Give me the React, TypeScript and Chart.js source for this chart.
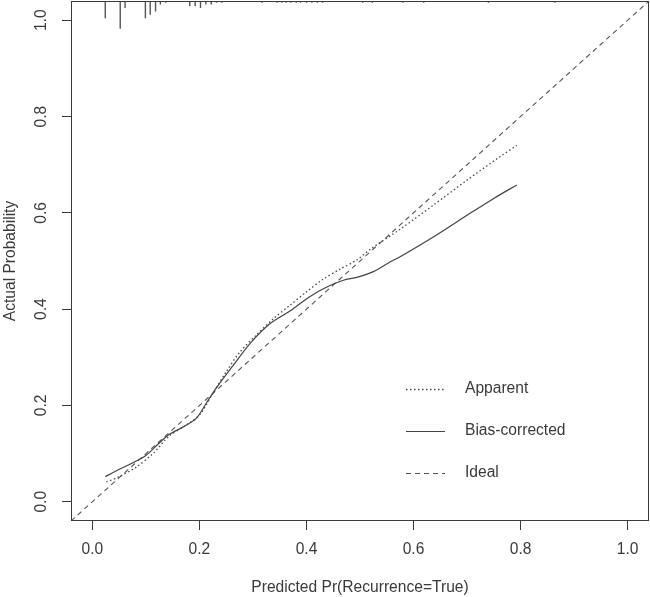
import React, { useEffect, useRef } from "react";
import { Chart, registerables } from "chart.js";

Chart.register(...registerables);

const axisMin = -0.04;
const axisMax = 1.04;
const tickValues = [0, 0.2, 0.4, 0.6, 0.8, 1.0];

const apparentX = [0.026, 0.05, 0.082, 0.113, 0.144, 0.175, 0.2, 0.225, 0.25, 0.275, 0.306, 0.338, 0.369, 0.4, 0.431, 0.4625, 0.494, 0.52, 0.575, 0.637, 0.7, 0.762, 0.793];
const apparentY = [0.041, 0.052, 0.072, 0.1, 0.137, 0.159, 0.18, 0.225, 0.27, 0.31, 0.346, 0.38, 0.408, 0.436, 0.462, 0.483, 0.502, 0.525, 0.566, 0.616, 0.668, 0.717, 0.74];

const biasX = [0.024, 0.044, 0.072, 0.1, 0.125, 0.144, 0.169, 0.194, 0.213, 0.232, 0.263, 0.294, 0.331, 0.369, 0.406, 0.438, 0.469, 0.494, 0.525, 0.556, 0.575, 0.637, 0.7, 0.75, 0.793];
const biasY = [0.052, 0.064, 0.079, 0.096, 0.122, 0.14, 0.155, 0.173, 0.205, 0.237, 0.283, 0.328, 0.369, 0.396, 0.426, 0.446, 0.46, 0.466, 0.478, 0.498, 0.509, 0.55, 0.595, 0.63, 0.658];

const idealX = [axisMin, axisMax];
const idealY = [axisMin, axisMax];

const rugX = [0.024, 0.052, 0.061, 0.099, 0.108, 0.118, 0.127, 0.137, 0.182, 0.192, 0.202, 0.212, 0.222, 0.232, 0.242, 0.317, 0.345, 0.354, 0.362, 0.371, 0.381, 0.389, 0.4, 0.41, 0.42, 0.43, 0.505, 0.523, 0.58, 0.619, 0.74, 0.864];
const rugCounts = [10, 16, 4, 10, 8, 6, 2, 1, 3, 3, 4, 2, 2, 1, 1, 1, 1, 1, 1, 1, 1, 1, 1, 1, 1, 1, 1, 1, 1, 1, 1, 1];

const legendLabels = ["Apparent", "Bias-corrected", "Ideal"];
const xTitle = "Predicted Pr(Recurrence=True)";
const yTitle = "Actual Probability";

const FONT = "'Liberation Sans', Arial, sans-serif";
const FSIZE = 15.6;
const INK = "#3a3a3a";
const RUG_UNIT = 0.0036;

function pairs(xs: number[], ys: number[]) {
  return xs.map((x, i) => ({ x, y: ys[i] }));
}

export default function App() {
  const ref = useRef<HTMLCanvasElement | null>(null);

  useEffect(() => {
    if (!ref.current) return;
    const rugData: any[] = [];
    rugX.forEach((x, i) => {
      rugData.push({ x, y: axisMax });
      rugData.push({ x, y: axisMax - rugCounts[i] * RUG_UNIT });
      rugData.push({ x, y: null });
    });

    const boxPlugin = {
      id: "boxAndLegend",
      afterDatasetsDraw(chart: any) {
        const { ctx, chartArea } = chart;
        ctx.save();
        ctx.strokeStyle = INK;
        ctx.lineWidth = 1;
        ctx.setLineDash([]);
        ctx.strokeRect(
          Math.round(chartArea.left) + 0.5,
          Math.round(chartArea.top) + 0.5,
          Math.round(chartArea.right - chartArea.left) - 1,
          Math.round(chartArea.bottom - chartArea.top) - 1
        );
        // legend
        const sx = chartArea.left + 335;
        const lineLen = 39;
        const textX = chartArea.left + 394;
        const rowY = [389, 431, 473];
        const dsIdx = [0, 1, 2];
        ctx.font = `${FSIZE}px ${FONT}`;
        ctx.textBaseline = "middle";
        ctx.textAlign = "left";
        legendLabels.forEach((lab, i) => {
          const ds = chart.data.datasets[dsIdx[i]];
          ctx.beginPath();
          ctx.strokeStyle = ds.borderColor;
          ctx.lineWidth = ds.borderWidth;
          ctx.setLineDash(ds.borderDash || []);
          ctx.moveTo(sx, rowY[i] + 0.5);
          ctx.lineTo(sx + lineLen, rowY[i] + 0.5);
          ctx.stroke();
          ctx.fillStyle = INK;
          ctx.fillText(lab, textX, rowY[i]);
        });
        ctx.restore();
      },
    };

    const chart = new Chart(ref.current, {
      type: "scatter",
      data: {
        datasets: [
          {
            label: legendLabels[0],
            data: pairs(apparentX, apparentY),
            showLine: true,
            borderColor: "#4a4a4a",
            borderWidth: 1.3,
            borderDash: [1.5, 2.5],
            pointRadius: 0,
            tension: 0.3,
          },
          {
            label: legendLabels[1],
            data: pairs(biasX, biasY),
            showLine: true,
            borderColor: "#444",
            borderWidth: 1.2,
            pointRadius: 0,
            tension: 0.3,
          },
          {
            label: legendLabels[2],
            data: pairs(idealX, idealY),
            showLine: true,
            borderColor: "#555",
            borderWidth: 1.1,
            borderDash: [5, 4],
            pointRadius: 0,
          },
          {
            label: "rug",
            data: rugData,
            showLine: true,
            spanGaps: false,
            borderColor: "#555",
            borderWidth: 1.4,
            pointRadius: 0,
          },
        ],
      },
      options: {
        responsive: false,
        animation: false,
        devicePixelRatio: 1,
        layout: { padding: { top: 1, right: 1, left: 0, bottom: 0 } },
        plugins: { legend: { display: false }, tooltip: { enabled: false } },
        scales: {
          x: {
            type: "linear",
            min: axisMin,
            max: axisMax,
            afterBuildTicks: (s: any) => {
              s.ticks = tickValues.map((v) => ({ value: v }));
            },
            afterFit: (s: any) => {
              s.height = 76;
              s.paddingLeft = 0;
              s.paddingRight = 0;
              s.paddingTop = 0;
              s.paddingBottom = 0;
            },
            grid: { display: true, drawOnChartArea: false, drawTicks: true, tickLength: 9, color: INK, lineWidth: 1 },
            border: { display: false },
            ticks: {
              padding: 10,
              color: INK,
              font: { family: FONT, size: FSIZE },
              maxRotation: 0,
              autoSkip: false,
              callback: (v: any) => Number(v).toFixed(1),
            },
            title: { display: true, text: xTitle, color: INK, font: { family: FONT, size: FSIZE }, padding: { top: 0, bottom: 0 } },
          },
          y: {
            type: "linear",
            min: axisMin,
            max: axisMax,
            afterBuildTicks: (s: any) => {
              s.ticks = tickValues.map((v) => ({ value: v }));
            },
            afterFit: (s: any) => {
              s.width = 71;
              s.paddingLeft = 0;
              s.paddingRight = 0;
              s.paddingTop = 0;
              s.paddingBottom = 0;
            },
            grid: { display: true, drawOnChartArea: false, drawTicks: true, tickLength: 9, color: INK, lineWidth: 1 },
            border: { display: false },
            ticks: {
              padding: 9,
              color: INK,
              font: { family: FONT, size: FSIZE },
              minRotation: 90,
              maxRotation: 90,
              crossAlign: "center",
              autoSkip: false,
              callback: (v: any) => Number(v).toFixed(1),
            },
            title: { display: true, text: yTitle, color: INK, font: { family: FONT, size: FSIZE }, padding: { top: 1, bottom: 0 } },
          },
        },
      },
      plugins: [boxPlugin],
    } as any);

    return () => chart.destroy();
  }, []);

  return (
    <div style={{ position: "fixed", left: 0, top: 0, width: 650, height: 597, background: "#fff" }}>
      <canvas ref={ref} width={650} height={597} style={{ width: 650, height: 597, display: "block" }} />
    </div>
  );
}
